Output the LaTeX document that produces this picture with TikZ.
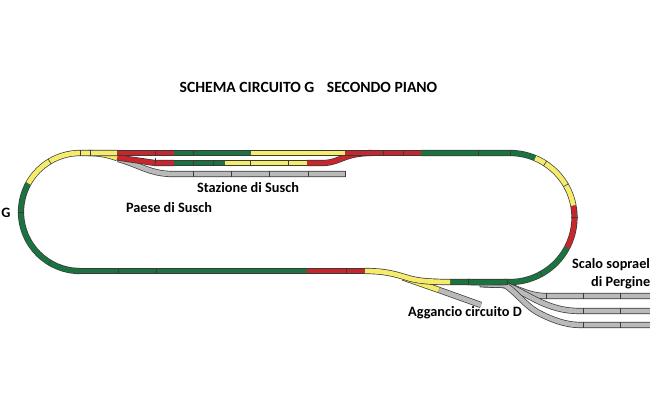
\documentclass[tikz,border=0pt]{standalone}
\usepackage{fontspec}
\setmainfont{Carlito}
\definecolor{tgreen}{HTML}{1B7340}
\definecolor{tyellow}{HTML}{F6EC6C}
\definecolor{tred}{HTML}{C9252C}
\definecolor{tgray}{HTML}{BABABA}
\definecolor{tline}{HTML}{3A3A3A}
\newcommand{\seg}[2]{\draw[line width=6.2pt,tline] #2;\draw[line width=4.8pt,#1] #2;}
\tikzset{
  lab/.style={font=\fontsize{14.3}{16}\selectfont\bfseries,text=black,inner sep=0pt},
  ttl/.style={font=\fontsize{15.6}{18}\selectfont\bfseries,text=black,inner sep=0pt},
  tick/.style={line width=0.6pt,tline}
}
\begin{document}
\begin{tikzpicture}[x=1pt,y=1pt]
\useasboundingbox (0,-400) rectangle (650,0);
\clip (0,-400) rectangle (650,0);
\fill[white] (0,-400) rectangle (650,0);
\coordinate (L) at (80,-212);
\coordinate (R) at (510,-217.5);
% lower siding and gray siding (under the main line)
\seg{tgray}{(118,-159) .. controls (140,-165) and (150,-174) .. (173,-174) -- (345,-174)}
\seg{tred}{(117,-157.5) -- (155,-163) -- (174,-163)}
\seg{tgreen}{(174,-163) -- (225,-163)}
\seg{tyellow}{(225,-163) -- (307,-163)}
\seg{tred}{(307,-163) -- (325,-163) .. controls (340,-162) and (345,-153) .. (372,-153)}
\seg{tyellow}{(88,-153) .. controls (100,-153) and (108,-155) .. (117,-158)}
% main loop
\seg{tgreen}{(80,-271) arc[start angle=270,end angle=151,radius=59]}
\seg{tyellow}{(L)+(151:59) arc[start angle=151,end angle=90,radius=59] -- (117,-153)}
\seg{tred}{(117,-153) -- (174,-153)}
\seg{tgreen}{(174,-153) -- (251,-153)}
\seg{tyellow}{(251,-153) -- (345,-153)}
\seg{tred}{(345,-153) -- (421,-153)}
\seg{tgreen}{(421,-153) -- (510,-153) arc[start angle=90,end angle=67,radius=64.5]}
\seg{tyellow}{(R)+(67:64.5) arc[start angle=67,end angle=10.5,radius=64.5]}
\seg{tred}{(R)+(10.5:64.5) arc[start angle=10.5,end angle=-28,radius=64.5]}
\seg{tgreen}{(R)+(-28:64.5) arc[start angle=-28,end angle=-90,radius=64.5] -- (450,-282)}
\seg{tgreen}{(80,-271) -- (307,-271)}
\seg{tred}{(307,-271) -- (365,-271)}
% lower junction
\seg{tgray}{(403,-277) .. controls (415,-281) and (425,-282) .. (437,-282)}
\seg{tyellow}{(403,-277.5) -- (439,-290)}
\seg{tgray}{(439,-290) -- (481,-305)}
\seg{tyellow}{(365,-271) .. controls (385,-271) and (395,-274) .. (408,-278) .. controls (418,-281) and (430,-282) .. (450,-282)}
% yard
\seg{tgray}{(480,-284) -- (505,-285) .. controls (515,-287) and (528,-296) .. (546,-296) -- (650,-296)}
\seg{tgray}{(480,-284) -- (505,-285) .. controls (518,-289) and (532,-299) .. (545,-304) .. controls (555,-308) and (565,-311) .. (580,-311) -- (650,-311)}
\seg{tgray}{(480,-284) -- (505,-285) .. controls (516,-292) and (525,-305) .. (537,-312) .. controls (550,-319) and (565,-325) .. (580,-325) -- (650,-325)}
\seg{tgreen}{(467,-282) .. controls (480,-282.5) and (495,-282.5) .. (507,-282)}
% ticks
\foreach \x/\y in {193/153,155/153,193/163,213/163,155/161,250/163,288/163,
  193/174,231/174,269/174,308/174,345/174,383/153,403/153,478/153,510/153,
  90/153,118/271,156/271,346/271,468/282,507/282,
  546/296,583/296,620/296,583/311,620/311,583/325,620/325}
  {\draw[tick] (\x,-\y+3.1) -- (\x,-\y-3.1);}
\foreach \a in {90,121,180,239}{\draw[tick] (L)+(\a:55.9) -- +(\a:62.1);}
\foreach \a in {57,30,0,-61}{\draw[tick] (R)+(\a:61.4) -- +(\a:67.6);}
% labels
\node[ttl] (title) at (308.5,-87.5) {SCHEMA CIRCUITO G\hspace{0.8em}SECONDO PIANO};
\node[lab] (stazione) at (248,-188) {Stazione di Susch};
\node[lab] (paese) at (169,-207.5) {Paese di Susch};
\node[lab] (g) at (6,-213) {G};
\node[lab] (aggancio) at (465,-313) {Aggancio circuito D};
\node[lab,anchor=west] (scalo) at (572,-265) {Scalo soprael};
\node[lab,anchor=west] (pergine) at (591,-283) {di Pergine};
\end{tikzpicture}
\end{document}
